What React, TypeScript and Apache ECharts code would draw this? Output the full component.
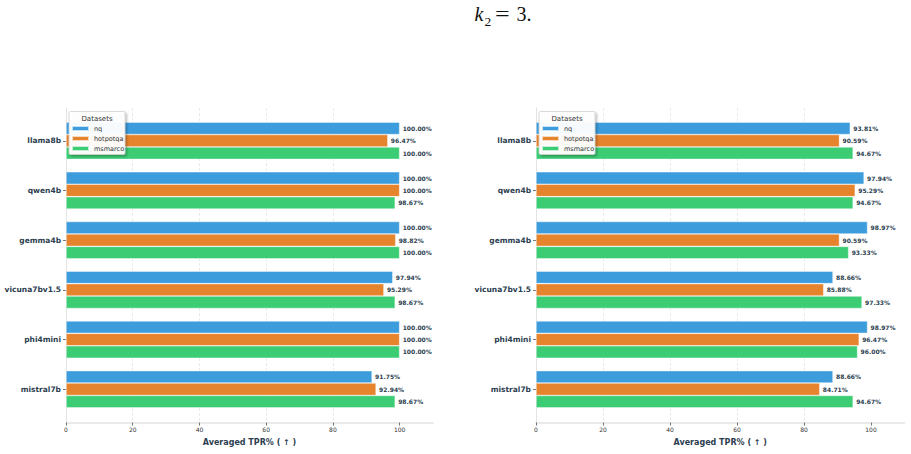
import React, { useEffect, useRef } from "react";
import * as echarts from "echarts";

const categories = ["llama8b", "qwen4b", "gemma4b", "vicuna7bv1.5", "phi4mini", "mistral7b"];
const seriesNames = ["nq", "hotpotqa", "msmarco"];
const colors = ["#3d9cdc", "#e6832d", "#3ccd74"];

const leftNq = [100.0, 100.0, 100.0, 97.94, 100.0, 91.75];
const leftHotpotqa = [96.47, 100.0, 98.82, 95.29, 100.0, 92.94];
const leftMsmarco = [100.0, 98.67, 100.0, 98.67, 100.0, 98.67];

const rightNq = [93.81, 97.94, 98.97, 88.66, 98.97, 88.66];
const rightHotpotqa = [90.59, 95.29, 90.59, 85.88, 96.47, 84.71];
const rightMsmarco = [94.67, 94.67, 93.33, 97.33, 96.0, 94.67];

const xTickValues = [0, 20, 40, 60, 80, 100];
const xMax = 110;
const axisName = "Averaged TPR% ( ↑ )";

const FONT = "DejaVu Sans";
const DARK = "#2c3e50";

export default function App() {
  const ref = useRef<HTMLDivElement>(null);
  useEffect(() => {
    if (!ref.current) return;
    const chart = echarts.init(ref.current, undefined, { renderer: "svg" });

    const panels = [
      { left: 66, width: 367, data: [leftNq, leftHotpotqa, leftMsmarco] },
      { left: 536, width: 368.5, data: [rightNq, rightHotpotqa, rightMsmarco] },
    ];
    const barTop = 115.9;
    const barHeight = 298.2;
    const frameTop = 108;
    const frameHeight = 314.6;

    const grid: any[] = [];
    const xAxis: any[] = [];
    const yAxis: any[] = [];
    const series: any[] = [];
    const legend: any[] = [];
    const graphic: any[] = [];

    panels.forEach((p, pi) => {
      const gBars = pi * 2;
      const gFrame = pi * 2 + 1;
      grid.push({ left: p.left, width: p.width, top: barTop, height: barHeight, outerBoundsMode: "none" });
      grid.push({ left: p.left, width: p.width, top: frameTop, height: frameHeight, outerBoundsMode: "none" });

      xAxis.push({
        gridIndex: gBars, type: "value", min: 0, max: xMax, show: false,
        splitLine: { show: false },
      });
      xAxis.push({
        gridIndex: gFrame, type: "value", min: 0, max: xMax, interval: 20,
        axisLine: { show: true, lineStyle: { color: "#e3e3e3", width: 1.6 } },
        axisTick: { show: true, length: 3, customValues: xTickValues, lineStyle: { color: "#555555", width: 0.8 } },
        axisLabel: {
          fontSize: 6, color: "#333333", fontFamily: FONT, margin: 4,
          customValues: xTickValues,
        },
        splitLine: {
          show: true, showMinLine: false, showMaxLine: false,
          lineStyle: { color: "#e4e4e4", type: [3, 2], width: 0.8 },
        },
        name: axisName, nameLocation: "middle", nameGap: 16,
        nameTextStyle: { fontSize: 8, fontWeight: "bold", color: DARK, fontFamily: FONT },
      });

      yAxis.push({
        gridIndex: gBars, type: "category", inverse: true, data: categories,
        axisLine: { show: false },
        axisTick: { show: true, length: 3, alignWithLabel: true, lineStyle: { color: "#555555", width: 0.8 } },
        axisLabel: { fontSize: 7.5, fontWeight: "bold", color: DARK, fontFamily: FONT, margin: 5 },
        splitLine: { show: false },
      });
      yAxis.push({
        gridIndex: gFrame, type: "value", min: 0, max: 1,
        axisLine: { show: true, lineStyle: { color: "#e3e3e3", width: 1 } },
        axisTick: { show: false }, axisLabel: { show: false }, splitLine: { show: false },
      });

      seriesNames.forEach((name, si) => {
        series.push({
          type: "bar", name, xAxisIndex: gBars, yAxisIndex: gBars,
          data: p.data[si], barWidth: "25%", barGap: "0%",
          itemStyle: { color: colors[si], borderColor: "rgba(255,255,255,0.7)", borderWidth: 0.6 },
          label: {
            show: true, position: "right", distance: 3,
            formatter: (d: any) => `${Number(d.value).toFixed(2)}%`,
            fontSize: 6, fontWeight: "bold", color: DARK, fontFamily: FONT,
          },
          z: 2,
        });
      });

      const bx = p.left + 3;
      legend.push({
        data: seriesNames, orient: "vertical", left: bx + 2, top: 124.5,
        icon: "rect", itemWidth: 17, itemHeight: 5, itemGap: 2,
        textStyle: { fontSize: 6.5, color: "#333333", fontFamily: FONT, lineHeight: 8 },
        selectedMode: false, padding: 0, z: 5,
      });
      graphic.push({
        type: "rect", z: 3, shape: { x: bx, y: 111.5, width: 56, height: 43, r: 1.5 },
        style: { fill: "rgba(255,255,255,0.95)", stroke: "#cfcfcf", lineWidth: 0.8,
          shadowBlur: 2, shadowOffsetX: 1.5, shadowOffsetY: 1.5, shadowColor: "rgba(0,0,0,0.3)" },
      });
      graphic.push({
        type: "text", z: 4, x: bx + 28, y: 118.5,
        style: { text: "Datasets", fontSize: 7, fill: "#333333", fontFamily: FONT, align: "center", verticalAlign: "middle" },
      });
    });

    const serif = "Liberation Serif";
    graphic.push({
      type: "text", x: 474.5, y: 14,
      style: { text: "k", fontSize: 20, fontStyle: "italic", fill: "#111111", fontFamily: serif, verticalAlign: "middle" },
    });
    graphic.push({
      type: "text", x: 484.5, y: 21.5,
      style: { text: "2", fontSize: 13.5, fill: "#111111", fontFamily: serif, verticalAlign: "middle" },
    });
    graphic.push({
      type: "text", x: 495, y: 14, scaleX: 1.3,
      style: { text: "=", fontSize: 20, fill: "#111111", fontFamily: serif, verticalAlign: "middle" },
    });
    graphic.push({
      type: "text", x: 516.5, y: 14,
      style: { text: "3.", fontSize: 20, fill: "#111111", fontFamily: serif, verticalAlign: "middle" },
    });

    chart.setOption({
      animation: false,
      backgroundColor: "#ffffff",
      grid, xAxis, yAxis, series, legend, graphic,
    });
    return () => chart.dispose();
  }, []);
  return (
    <div
      ref={ref}
      style={{ position: "fixed", left: 0, top: 0, width: 911, height: 454 }}
    />
  );
}
